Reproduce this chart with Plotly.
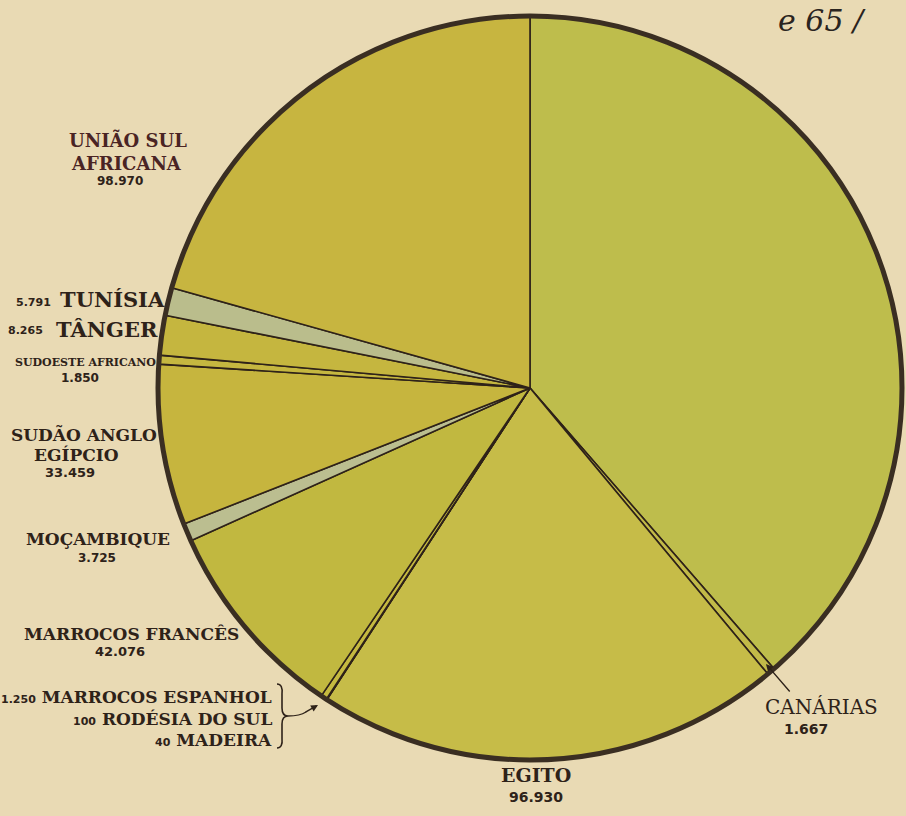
import plotly.graph_objects as go

# Slice order runs clockwise from 12 o'clock
regioes = ["sem legenda", "Canárias", "Egito", "Madeira", "Rodésia do Sul",
           "Marrocos Espanhol", "Marrocos Francês", "Moçambique",
           "Sudão Anglo Egípcio", "Sudoeste Africano", "Tânger", "Tunísia",
           "União Sul Africana"]
valores = [185000, 1667, 96930, 40, 100, 1250, 42076, 3725, 33459, 1850,
           8265, 5791, 98970]
cores = ["#BEBD4C", "#C2BA48", "#C6BC48", "#C5B940", "#C5B940", "#C5B940",
         "#C1B840", "#BBBE90", "#C6B53E", "#C5B740", "#C5B63F", "#BABD8C",
         "#C7B540"]

W, H = 906, 816
CX, CY, R = 530, 388, 372

BG = "#E9DAB4"
INK = "#2E2219"
SERIF = "DejaVu Serif"
SANS = "DejaVu Sans"


def fmt(v):
    return f"{v:,}".replace(",", ".")


val = dict(zip(regioes, valores))

fig = go.Figure()
fig.add_trace(go.Pie(
    labels=regioes, values=valores, sort=False, direction="clockwise",
    rotation=0, textinfo="none", hoverinfo="skip", showlegend=False,
    marker=dict(colors=cores, line=dict(color=INK, width=1.6)),
    domain=dict(x=[(CX - R) / W, (CX + R) / W],
                y=[1 - (CY + R) / H, 1 - (CY - R) / H]),
))

ann = []


def txt(x, y, s, size, font=SERIF, color=INK, xanchor="center", weight="bold"):
    ann.append(dict(x=x, y=y, xref="x", yref="y", text=s, showarrow=False,
                    xanchor=xanchor, yanchor="middle",
                    font=dict(family=font, size=size, color=color, weight=weight)))


# União Sul Africana
txt(128, 140, "UNIÃO SUL", 18, color="#4A2424")
txt(126, 163, "AFRICANA", 18, color="#4A2424")
txt(120, 181, fmt(val["União Sul Africana"]), 12, font=SANS)
# Tunísia / Tânger / Sudoeste Africano
txt(53, 302, fmt(val["Tunísia"]), 11, font=SANS, xanchor="right")
txt(112, 299, "TUNÍSIA", 21)
txt(45, 330, fmt(val["Tânger"]), 11, font=SANS, xanchor="right")
txt(107, 329, "TÂNGER", 21)
txt(85, 362, "SUDOESTE AFRICANO", 11)
txt(80, 378, fmt(val["Sudoeste Africano"]), 12, font=SANS)
# Sudão Anglo Egípcio
txt(84, 434, "SUDÃO ANGLO", 17)
txt(76, 455, "EGÍPCIO", 17)
txt(70, 472, fmt(val["Sudão Anglo Egípcio"]), 13, font=SANS)
# Moçambique
txt(98, 539, "MOÇAMBIQUE", 17)
txt(97, 558, fmt(val["Moçambique"]), 12, font=SANS)
# Marrocos Francês
txt(131, 634, "MARROCOS FRANCÊS", 17)
txt(120, 651, fmt(val["Marrocos Francês"]), 13, font=SANS)
# grouped small slices
txt(274, 697, f"<span style='font-family:{SANS};font-size:11px'>{fmt(val['Marrocos Espanhol'])}</span> MARROCOS ESPANHOL", 17, xanchor="right")
txt(274, 719, f"<span style='font-family:{SANS};font-size:11px'>{fmt(val['Rodésia do Sul'])}</span> RODÉSIA DO SUL", 17, xanchor="right")
txt(274, 740, f"<span style='font-family:{SANS};font-size:11px'>{fmt(val['Madeira'])}</span> MADEIRA", 17, xanchor="right")
# Canárias
txt(821, 707, "CANÁRIAS", 20, weight="normal")
txt(806, 729, fmt(val["Canárias"]), 14, font=SANS)
# Egito
txt(536, 775, "EGITO", 19)
txt(536, 797, fmt(val["Egito"]), 14, font=SANS)

# handwritten note in the corner
ann.append(dict(x=822, y=20, xref="x", yref="y", text="e 65 /", showarrow=False,
                yanchor="middle",
                font=dict(family=SERIF, size=30, color="#2A2420", style="italic")))

# pointer arrows
ann.append(dict(x=766, y=664, ax=791, ay=693, xref="x", yref="y", axref="x",
                ayref="y", text="", showarrow=True, arrowhead=2, arrowsize=1,
                arrowwidth=1.4, arrowcolor=INK))
ann.append(dict(x=318, y=705, ax=304, ay=713, xref="x", yref="y", axref="x",
                ayref="y", text="", showarrow=True, arrowhead=2, arrowsize=1,
                arrowwidth=1.4, arrowcolor=INK))

shapes = [
    # thick outer rim of the pie
    dict(type="circle", xref="x", yref="y", x0=CX - R, x1=CX + R,
         y0=CY - R, y1=CY + R, line=dict(color="#3A2E22", width=5)),
    # brace grouping the three smallest slices
    dict(type="path", xref="x", yref="y",
         path="M 277 684 Q 283 684 282 694 L 282 708 Q 282 716 288 716 "
              "Q 282 716 282 724 L 282 738 Q 283 748 277 748",
         line=dict(color=INK, width=1.6)),
    dict(type="path", xref="x", yref="y",
         path="M 288 716 Q 300 716 306 712",
         line=dict(color=INK, width=1.4)),
]

fig.update_layout(
    width=W, height=H, margin=dict(l=0, r=0, t=0, b=0),
    paper_bgcolor=BG, plot_bgcolor="rgba(0,0,0,0)",
    xaxis=dict(range=[0, W], domain=[0, 1], visible=False, fixedrange=True),
    yaxis=dict(range=[H, 0], domain=[0, 1], visible=False, fixedrange=True),
    annotations=ann, shapes=shapes,
)

fig.write_html("out.html")
